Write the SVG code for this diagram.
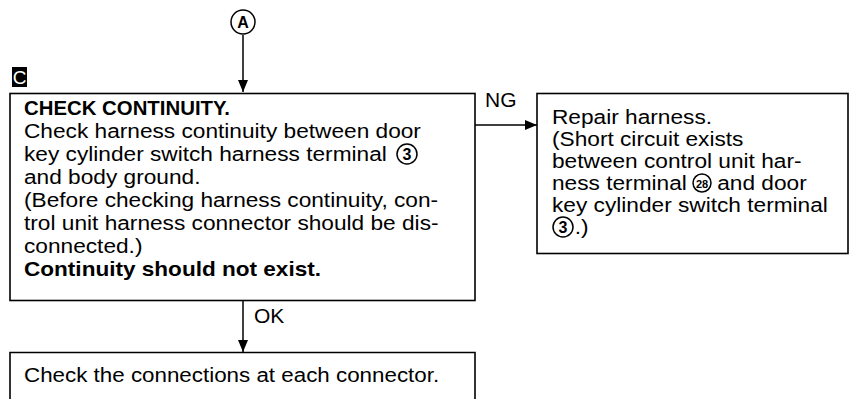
<svg xmlns="http://www.w3.org/2000/svg" width="854" height="399" viewBox="0 0 854 399">
<defs>
<marker id="ah" markerWidth="12" markerHeight="10" refX="12" refY="5" orient="auto" markerUnits="userSpaceOnUse">
<path d="M0,0 L12,5 L0,10 Z" fill="#000"/>
</marker>
<style>
.box{fill:#fff;stroke:#000;stroke-width:1.6}
.t{font-family:"Liberation Sans",Arial,sans-serif;font-size:21px;fill:#000}
.b{font-weight:bold}
.cn{fill:none;stroke:#000;stroke-width:1.5}
.circ{fill:#fff;stroke:#000;stroke-width:1.5}
.ct{font-family:"Liberation Sans",Arial,sans-serif;font-weight:bold;fill:#000;text-anchor:middle}
.lbl{font-family:"Liberation Sans",Arial,sans-serif;font-size:21px;fill:#000}
</style>
</defs>
<rect width="854" height="399" fill="#fff"/>

<g id="connectors">
<line class="cn" x1="243" y1="35" x2="243" y2="92" marker-end="url(#ah)"/>
<line class="cn" x1="475" y1="125" x2="537" y2="125" marker-end="url(#ah)"/>
<text class="lbl" x="485" y="107">NG</text>
<line class="cn" x1="243" y1="301" x2="243" y2="352" marker-end="url(#ah)"/>
<text class="lbl" x="254" y="323">OK</text>
</g>

<g id="nodeA">
<circle class="circ" cx="243" cy="22" r="12"/>
<text class="ct" x="243" y="28" font-size="16">A</text>
</g>

<g id="labelC">
<rect x="12" y="67" width="15" height="20" fill="#000"/>
<text x="19.5" y="84" font-family="'Liberation Sans',Arial,sans-serif" font-size="19" fill="#fff" text-anchor="middle">C</text>
</g>

<g id="checkContinuity">
<rect class="box" x="10" y="93.5" width="465" height="207"/>
<text class="t b" x="24" y="115" textLength="206" lengthAdjust="spacingAndGlyphs">CHECK CONTINUITY.</text>
<g transform="translate(24 0) scale(1.08 1)">
<text class="t" x="0" y="138">Check harness continuity between door</text>
<text class="t" x="0" y="161">key cylinder switch harness terminal</text>
<text class="t" x="0" y="184">and body ground.</text>
<text class="t" x="0" y="207">(Before checking harness continuity, con-</text>
<text class="t" x="0" y="230">trol unit harness connector should be dis-</text>
<text class="t" x="0" y="253">connected.)</text>
</g>
<text class="t b" x="24" y="276" textLength="297" lengthAdjust="spacingAndGlyphs">Continuity should not exist.</text>
<circle class="circ" cx="407" cy="154" r="10"/>
<text class="ct" x="407" y="160" font-size="16">3</text>
</g>

<g id="repairHarness">
<rect class="box" x="537" y="93.5" width="311" height="160"/>
<g transform="translate(552 0) scale(1.08 1)">
<text class="t" x="0" y="124">Repair harness.</text>
<text class="t" x="0" y="146">(Short circuit exists</text>
<text class="t" x="0" y="168">between control unit har-</text>
<text class="t" x="0" y="190">ness terminal</text>
<text class="t" x="153" y="190">and door</text>
<text class="t" x="0" y="212">key cylinder switch terminal</text>
<text class="t" x="21" y="234">.)</text>
</g>
<circle class="circ" cx="702" cy="183" r="9"/>
<text class="ct" x="702" y="187.5" font-size="11">28</text>
<circle class="circ" cx="563" cy="227" r="10"/>
<text class="ct" x="563" y="233" font-size="16">3</text>
</g>

<g id="checkConnections">
<path class="box" d="M10,399 L10,352.5 L475,352.5 L475,399"/>
<g transform="translate(24 0) scale(1.065 1)">
<text class="t" x="0" y="382">Check the connections at each connector.</text>
</g>
</g>
</svg>
